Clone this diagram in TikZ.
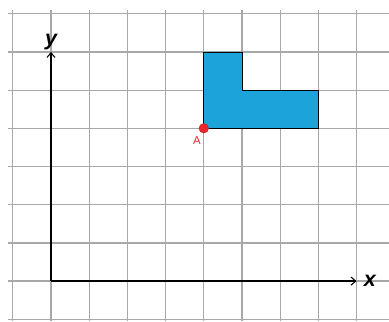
\documentclass[tikz,border=0pt]{standalone}
\usepackage{fontspec}
\setmainfont{Liberation Sans}
\definecolor{gridgray}{HTML}{A8A8A8}
\definecolor{lblue}{HTML}{1BA3DA}
\definecolor{ptred}{HTML}{E8262B}
\usetikzlibrary{arrows.meta,positioning}

\begin{document}
\begin{tikzpicture}[x=1cm,y=1cm,
      gridline/.style={gridgray,line width=0.9pt},
      axis/.style={black,line width=1pt,-{Straight Barb[length=3.5pt,width=6pt,line width=0.8pt]}},
      axlabel/.style={font=\fontsize{16}{16}\selectfont\bfseries\itshape,inner sep=1pt},
      pt/.style={circle,fill=ptred,draw=ptred!80!black,line width=0.3pt,inner sep=0pt,minimum size=0.25cm}]
    \useasboundingbox (-1.335,-1.05) rectangle (8.85,7.36);
    % squared paper
    \foreach \y in {-1,...,7} \draw[gridline] (-1.125,\y) -- (8.85,\y);
    \foreach \x in {-1,...,8} \draw[gridline] (\x,-1.05) -- (\x,7.09);
    % the L-shaped figure
    \draw[fill=lblue,line width=0.6pt] (4,4) -- (4,6) -- (5,6) -- (5,5) -- (7,5) -- (7,4) -- cycle;
    % axes
    \coordinate (O) at (0,0);
    \coordinate (xend) at (8,0);
    \coordinate (yend) at (0,6);
    \draw[axis] (O) -- (xend);
    \draw[axis] (O) -- (yend);
    \node[axlabel,right=0.15cm of xend] (xlab) {x};
    \node[axlabel,above=0.02cm of yend] (ylab) {y};
    % corner A
    \node[pt] (A) at (4,4) {};
    \node[text=ptred,font=\fontsize{8.5}{9}\selectfont,inner sep=0pt,below left=0.12cm and -0.02cm of A] (Alab) {A};
  \end{tikzpicture}
\end{document}
